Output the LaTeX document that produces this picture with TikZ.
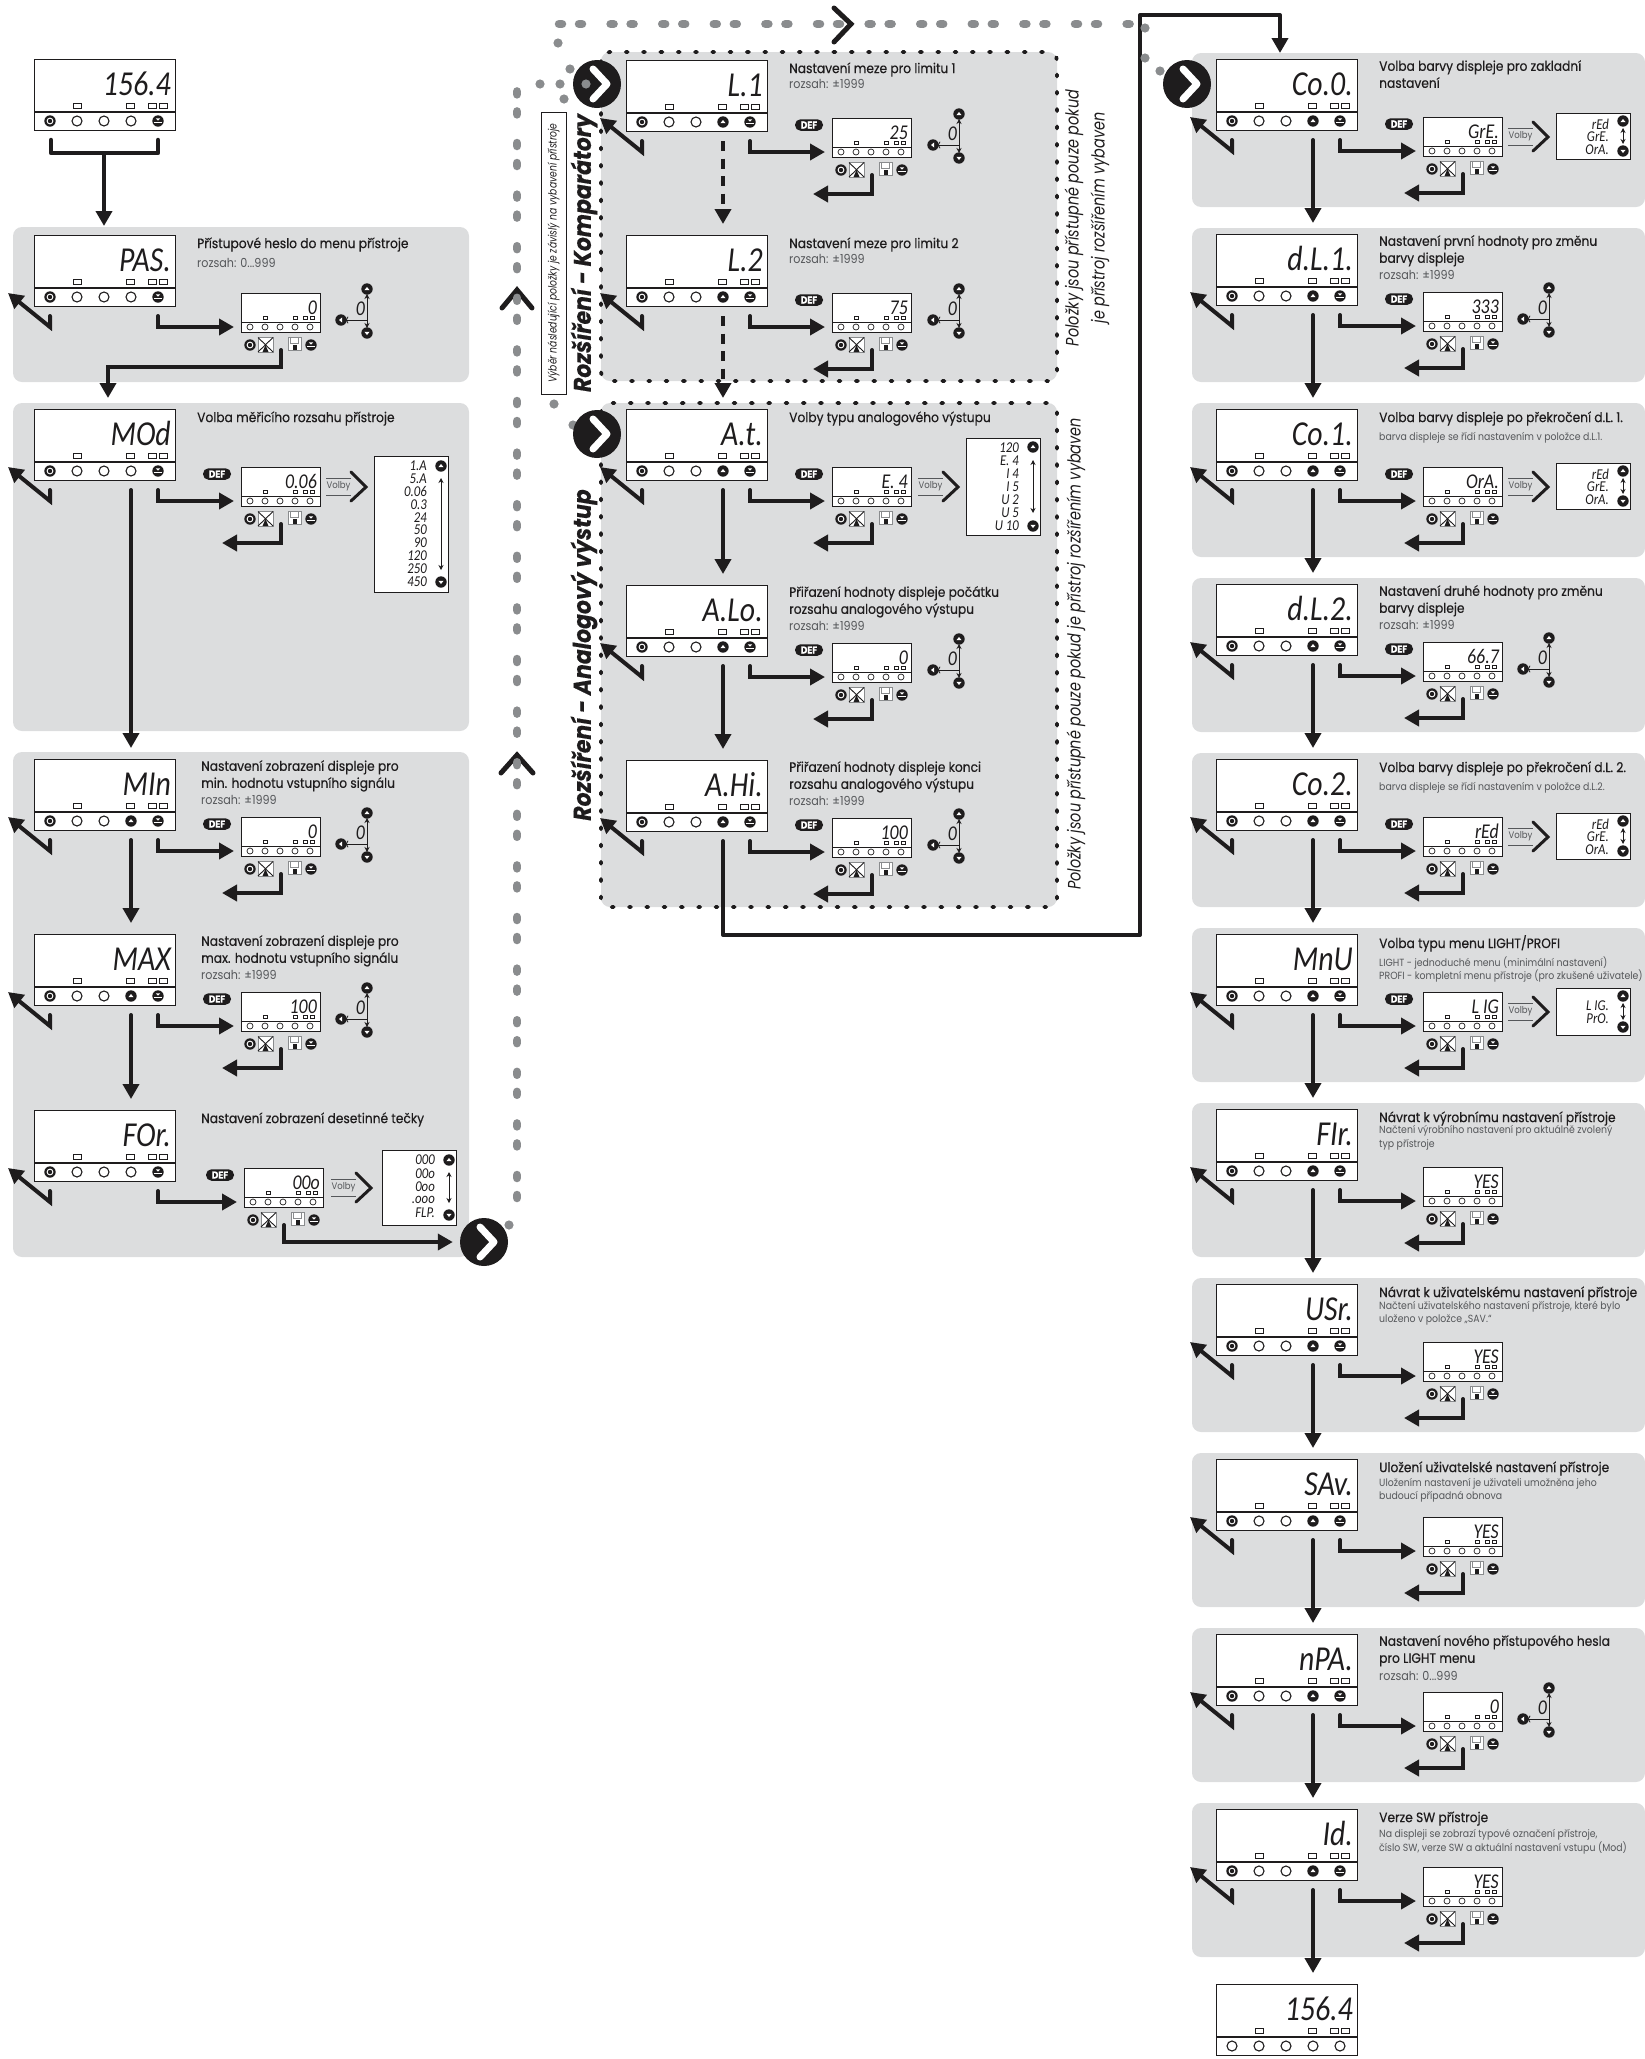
\documentclass[tikz,border=0pt]{standalone}
\usepackage{fontspec}
\setmainfont{Poppins}[FakeStretch=0.9]
\newfontfamily\headfont{Poppins}[FakeStretch=0.9,FakeBold=0.4]
\newfontfamily\segfont{Carlito}[FakeStretch=0.85]
\newfontfamily\narrowfont{Poppins}[FakeStretch=0.8]
\usetikzlibrary{arrows.meta}
\definecolor{panelgray}{HTML}{DCDDDE}
\definecolor{dotgray}{HTML}{8A8C8E}
\definecolor{inkgray}{HTML}{55575A}
\definecolor{ink}{HTML}{1E1C1D}
\newcommand{\rng}{\fontsize{12.4}{13.5}\selectfont}
%--- Buttons ---%
\newcommand{\btno}[2]{\draw[btnline, fill=white] (#1,#2) circle (5);}
\newcommand{\btnt}[2]{\fill[ink] (#1,#2) circle (5.7); \fill[white] (#1,#2) circle (3.4); \fill[ink] (#1,#2) circle (2.2);}
\newcommand{\btnu}[2]{\fill[ink] (#1,#2) circle (5.7); \begin{scope}[shift={(#1,#2)}] \fill[white] (-2.6,1.2) -- (2.6,1.2) -- (0,-2) -- cycle; \end{scope}}
\newcommand{\btnv}[2]{\fill[ink] (#1,#2) circle (5.7); \begin{scope}[shift={(#1,#2)}] \fill[white] (-2.6,-1.2) -- (2.6,-1.2) -- (0,2) -- cycle; \end{scope}}
\newcommand{\btnl}[2]{\fill[ink] (#1,#2) circle (5.7); \begin{scope}[shift={(#1,#2)}] \fill[white] (1.2,-2.6) -- (1.2,2.6) -- (-2,0) -- cycle; \end{scope}}
\newcommand{\btnd}[2]{\fill[ink] (#1,#2) circle (5.7); \begin{scope}[shift={(#1,#2)}] \fill[white] (-2.2,-2.6) -- (2.2,-2.6) -- (0,-0.4) -- cycle; \fill[white] (-3.6,1.1) rectangle (3.6,2.4); \end{scope}}
%--- Devices ---%
\newcommand{\bigdev}[7]{%
  \begin{scope}[shift={(#2,#3)}]
    \coordinate (#1-o) at (0,0);
    \node (#1) [bigbox] at (0,0) {};
    \draw[thick line] (0,53) -- (141,53);
    \foreach \l in {39,92,114,125} \draw[ledline] (\l,44.5) rectangle ++(8,5);
    #5{16}{62} \btno{43}{62} \btno{70}{62} #6{97}{62} #7{124}{62}
    \node (#1-t) [bigval] at (137,36) {#4};
    \coordinate (#1-n) at (97,0);
    \coordinate (#1-d) at (97,81);
    \coordinate (#1-r) at (124,81);
    \coordinate (#1-k) at (16,81);
    \coordinate (#1-j) at (16,92);
    \coordinate (#1-g) at (-26,58);
  \end{scope}}
\newcommand{\menuitem}[5]{%
  \bigdev{#1}{#2}{#3}{#4}{\btnt}{#5}{\btnd}
  \draw[back] (#1-k) -- (#1-j) -- (#1-g);}
\newcommand{\setitem}[3][207]{%
  \begin{scope}[shift={(#2-o)},shift={(#1,58)}]
    \node (#2-s) [smallbox] at (0,0) {};
    \draw[line width=0.9pt, ink] (0,29) -- (79,29);
    \foreach \l in {22,52,62,69} \draw[ledline, line width=0.6pt] (\l,23.5) rectangle ++(4.4,3);
    \foreach \l in {9,24,39,54,69} \draw[line width=0.7pt, ink, fill=white] (\l,34) circle (3);
    \node (#2-v) [smallval] at (76,21) {#3};
    \btnt{9}{52}
    \draw[line width=0.8pt, dotgray, fill=white] (17,44.5) rectangle (32,59);
    \draw[line width=0.9pt, ink] (17,44.5) -- (32,59) (32,44.5) -- (17,59);
    \fill[ink] (21.5,59) -- (24.5,52) -- (27.5,59) -- cycle;
    \draw[line width=0.8pt, dotgray, fill=white] (47,44) rectangle (60,57);
    \draw[line width=0.7pt, dotgray] (49.5,44) rectangle (57.5,50);
    \fill[ink] (52,52) rectangle (56,57);
    \btnd{70}{52}
    \coordinate (#2-i) at (-7,34);
    \coordinate (#2-b) at (40,57);
    \coordinate (#2-c) at (-19,76);
  \end{scope}
  \draw[arr] (#2-r) |- (#2-i);}
\newcommand{\defbadge}[2][183]{%
  \begin{scope}[shift={(#2-o)}]
    \node (#2-def) [defb] at (#1,65) {DEF};
  \end{scope}}
\newcommand{\spin}[1]{%
  \begin{scope}[shift={(#1-o)}]
    \draw[thinarr, <->] (333,59) -- (333,93);
    \draw[thinarr, ->] (333,85) -- (311,85);
    \node (#1-z) [smallval] at (331,80) {0};
    \btnu{333}{54} \btnv{333}{98} \btnl{307}{85}
  \end{scope}}
\newcommand{\volby}[2][292]{%
  \begin{scope}[shift={(#2-o)},shift={(#1,0)}]
    \draw[line width=0.8pt, inkgray] (0,69) -- (25,69) (0,86) -- (25,86);
    \node (#2-vo) [vol] at (12.5,77.5) {Volby};
    \draw[chev, line width=3pt] (25,63) -- (40,78) -- (25,92);
  \end{scope}}
\newcommand{\optbox}[9]{%
  \begin{scope}[shift={(#1-o)},shift={(#2,#3)}]
    \node (#1-box) [optb, minimum width=74pt, minimum height=#4pt] at (0,0) {};
    \foreach \v [count=\i] in {#8} \node (#1-o\i) [optval] at (53,{#5+(\i-1)*#6}) {\v};
    \draw[thinarr, <->] (67,#7) -- (67,{#4-#7});
    \btnu{67}{#9} \btnv{67}{#4-#9}
  \end{scope}}
\newcommand{\headtxt}[3][163]{%
  \begin{scope}[shift={(#2-o)}]
    \node (#2-h) [head] at (#1,1) {#3};
  \end{scope}}
\newcommand{\subtxt}[4][163]{%
  \begin{scope}[shift={(#2-o)}]
    \node (#2-u) [sub] at (#1,#3) {#4};
  \end{scope}}
\begin{document}
\begin{tikzpicture}[
        x=1pt, y=-1pt,
        panel/.style = {fill=panelgray, rounded corners=9pt},
        dpanel/.style = {panel, draw=ink, line width=3.8pt, line cap=round, dash pattern=on 2pt off 15.3pt},
        thick line/.style = {line width=1.2pt, ink},
        btnline/.style = {line width=1.1pt, ink},
        ledline/.style = {line width=0.8pt, ink, fill=white},
        bigbox/.style = {draw=ink, line width=1.3pt, fill=white, anchor=north west, inner sep=0pt, minimum width=141pt, minimum height=71pt},
        smallbox/.style = {draw=ink, line width=0.9pt, fill=white, anchor=north west, inner sep=0pt, minimum width=79pt, minimum height=39pt},
        bigval/.style = {anchor=base east, inner sep=0pt, text=ink, font=\segfont\itshape\fontsize{35}{35}\selectfont},
        smallval/.style = {anchor=base east, inner sep=0pt, text=ink, font=\segfont\itshape\fontsize{21}{21}\selectfont},
        optval/.style = {anchor=east, inner sep=0pt, text=ink, font=\segfont\itshape\fontsize{15}{15}\selectfont},
        optb/.style = {draw=ink, line width=0.9pt, fill=white, anchor=north west, inner sep=0pt},
        defb/.style = {fill=ink, text=white, rounded corners=5.5pt, inner sep=0pt, minimum width=28pt, minimum height=11.5pt, font=\headfont\bfseries\fontsize{10}{10}\selectfont},
        vol/.style = {inner sep=0pt, text=inkgray, font=\fontsize{9.5}{10}\selectfont},
        head/.style = {anchor=north west, inner sep=0pt, align=left, text=ink, font=\headfont\fontsize{13.6}{17}\selectfont\strut},
        sub/.style = {anchor=north west, inner sep=0pt, align=left, text=inkgray, font=\fontsize{10.4}{13.5}\selectfont\strut},
        arr/.style = {-{Triangle[length=15pt,width=16pt]}, line width=4pt, ink, line cap=round},
        arrd/.style = {-{Triangle[length=15pt,width=16pt]}, line width=4pt, ink, dash pattern=on 10pt off 7.5pt},
        back/.style = {-{Triangle[length=15pt,width=16pt]}, line width=4pt, ink, line cap=round, miter limit=4},
        thinarr/.style = {-{Stealth[length=5pt,width=5pt]}, line width=0.8pt, ink},
        <->/.style = {{Stealth[length=5pt,width=5pt]}-{Stealth[length=5pt,width=5pt]}},
        chev/.style = {ink, line width=5pt, line cap=round, line join=miter},
        go/.style = {circle, fill=ink, inner sep=0pt, minimum size=48pt},
        gdots/.style = {line width=8.5pt, dotgray, line cap=round, dash pattern=on 3pt off 17pt on 3pt off 28.6pt},
        title/.style = {rotate=90, inner sep=0pt, text=ink, font=\headfont\bfseries\itshape\fontsize{24.3}{24.3}\selectfont},
        rnote/.style = {rotate=90, inner sep=0pt, text=ink, font=\narrowfont\itshape\fontsize{18}{18}\selectfont},
        lnote/.style = {rotate=90, draw=ink, line width=0.8pt, fill=white, inner sep=0pt, minimum width=282pt, minimum height=25pt, text=ink, font=\narrowfont\itshape\fontsize{11.5}{11.5}\selectfont}
    ]
    \useasboundingbox (0,0) rectangle (1645,2059);
    %--- Draw Panels ---%
        \fill[panel] (13,227) rectangle (469,382);
        \fill[panel] (13,403) rectangle (469,731);
        \fill[panel] (13,752) rectangle (469,1257);
        \foreach \y in {53,228,403,578,753,928,1103,1278,1453,1628,1803}
            \fill[panel] (1192,\y) rectangle (1645,{\y+154});
        \draw[dpanel] (601,52) rectangle (1057,381);
        \draw[dpanel] (601,403) rectangle (1057,907);
    %--- Draw Left Column ---%
        \bigdev{sta}{34}{59}{156.4}{\btnt}{\btno}{\btnd}
        \menuitem{pas}{34}{235}{PAS.}{\btno}
        \setitem{pas}{0} \spin{pas}
        \headtxt{pas}{Přístupové heslo do menu přístroje}
        \subtxt{pas}{22.5}{\rng rozsah: 0...999}
        \menuitem{mod}{34}{409}{MOd}{\btno}
        \setitem{mod}{0.06} \defbadge{mod} \volby{mod}
        \optbox{mod}{340}{47}{136}{10}{12.8}{22}{1.A,5.A,0.06,0.3,24,50,90,120,250,450}{10}
        \headtxt{mod}{Volba měřicího rozsahu přístroje}
        \menuitem{min}{34}{759}{MIn}{\btnu}
        \setitem{min}{0} \defbadge{min} \spin{min}
        \headtxt[167]{min}{Nastavení zobrazení displeje pro\\min. hodnotu vstupního signálu}
        \subtxt[167]{min}{35.5}{\rng rozsah: ±1999}
        \menuitem{max}{34}{934}{MAX}{\btnu}
        \setitem{max}{100} \defbadge{max} \spin{max}
        \headtxt[167]{max}{Nastavení zobrazení displeje pro\\max. hodnotu vstupního signálu}
        \subtxt[167]{max}{35.5}{\rng rozsah: ±1999}
        \menuitem{for}{34}{1110}{FOr.}{\btno}
        \setitem[210]{for}{00o} \defbadge[186]{for} \volby[297]{for}
        \optbox{for}{348}{40}{75}{10}{13.2}{22}{000,00o,0oo,.ooo,FLP.}{10}
        \headtxt[167]{for}{Nastavení zobrazení desetinné tečky}
    %--- Draw Center Column ---%
        \menuitem{la}{626}{60}{L.1}{\btnu}
        \setitem[206]{la}{25} \defbadge{la} \spin{la}
        \headtxt{la}{Nastavení meze pro limitu 1}
        \subtxt{la}{18.5}{\rng rozsah: ±1999}
        \menuitem{lb}{626}{235}{L.2}{\btnu}
        \setitem[206]{lb}{75} \defbadge{lb} \spin{lb}
        \headtxt{lb}{Nastavení meze pro limitu 2}
        \subtxt{lb}{18.5}{\rng rozsah: ±1999}
        \menuitem{at}{626}{409}{A.t.}{\btnu}
        \setitem[206]{at}{E. 4} \defbadge{at} \volby{at}
        \optbox{at}{340}{29}{97}{10}{13}{22}{120,E. 4,I 4,I 5,U 2,U 5,U 10}{9}
        \headtxt{at}{Volby typu analogového výstupu}
        \menuitem{alo}{626}{585}{A.Lo.}{\btnu}
        \setitem[206]{alo}{0} \defbadge{alo} \spin{alo}
        \headtxt{alo}{Přiřazení hodnoty displeje počátku\\rozsahu analogového výstupu}
        \subtxt{alo}{35.5}{\rng rozsah: ±1999}
        \menuitem{ahi}{626}{760}{A.Hi.}{\btnu}
        \setitem[206]{ahi}{100} \defbadge{ahi} \spin{ahi}
        \headtxt{ahi}{Přiřazení hodnoty displeje konci\\rozsahu analogového výstupu}
        \subtxt{ahi}{35.5}{\rng rozsah: ±1999}
    %--- Draw Right Column ---%
        \menuitem{coa}{1216}{59}{Co.0.}{\btnu}
        \setitem{coa}{GrE.} \defbadge{coa} \volby{coa}
        \optbox{coa}{340}{54}{46}{11}{13}{15}{rEd,GrE.,OrA.}{8}
        \headtxt{coa}{Volba barvy displeje pro zakladní\\nastavení}
        \menuitem{dla}{1216}{234}{d.L.1.}{\btnu}
        \setitem{dla}{333} \defbadge{dla} \spin{dla}
        \headtxt{dla}{Nastavení první hodnoty pro změnu\\barvy displeje}
        \subtxt{dla}{35.5}{\rng rozsah:  ±1999}
        \menuitem{cob}{1216}{409}{Co.1.}{\btnu}
        \setitem{cob}{OrA.} \defbadge{cob} \volby{cob}
        \optbox{cob}{340}{54}{46}{11}{13}{15}{rEd,GrE.,OrA.}{8}
        \headtxt{cob}{Volba barvy displeje po překročení d.L. 1.}
        \subtxt{cob}{21.5}{barva displeje se řídí nastavením v položce d.L.1.}
        \menuitem{dlb}{1216}{584}{d.L.2.}{\btnu}
        \setitem{dlb}{66.7} \defbadge{dlb} \spin{dlb}
        \headtxt{dlb}{Nastavení druhé hodnoty pro změnu\\barvy displeje}
        \subtxt{dlb}{35.5}{\rng rozsah:  ±1999}
        \menuitem{coc}{1216}{759}{Co.2.}{\btnu}
        \setitem{coc}{rEd} \defbadge{coc} \volby{coc}
        \optbox{coc}{340}{54}{46}{11}{13}{15}{rEd,GrE.,OrA.}{8}
        \headtxt{coc}{Volba barvy displeje po překročení d.L. 2.}
        \subtxt{coc}{21.5}{barva displeje se řídí nastavením v položce d.L.2.}
        \menuitem{mnu}{1216}{934}{MnU}{\btnu}
        \setitem{mnu}{L IG} \defbadge{mnu} \volby{mnu}
        \optbox{mnu}{340}{54}{47}{18}{13}{15}{L IG.,PrO.}{8}
        \headtxt{mnu}{Volba typu menu LIGHT/PROFI}
        \subtxt{mnu}{22.5}{LIGHT - jednoduché menu (minimální nastavení)\\PROFI - kompletní menu přístroje (pro zkušené uživatele)}
        \menuitem{fir}{1216}{1109}{FIr.}{\btnu}
        \setitem{fir}{YES}
        \headtxt{fir}{Návrat k výrobnímu nastavení přístroje}
        \subtxt{fir}{16.5}{Načtení výrobního nastavení pro aktuálně zvolený\\typ přístroje}
        \menuitem{usr}{1216}{1284}{USr.}{\btnu}
        \setitem{usr}{YES}
        \headtxt{usr}{Návrat k uživatelskému nastavení přístroje}
        \subtxt{usr}{17}{Načtení uživatelského nastavení přístroje, které bylo\\uloženo v položce „SAV.“}
        \menuitem{sav}{1216}{1459}{SAv.}{\btnu}
        \setitem{sav}{YES}
        \headtxt{sav}{Uložení uživatelské nastavení přístroje}
        \subtxt{sav}{19}{Uložením nastavení je uživateli umožněna jeho\\budoucí případná obnova}
        \menuitem{npa}{1216}{1634}{nPA.}{\btnu}
        \setitem{npa}{0} \spin{npa}
        \headtxt{npa}{Nastavení nového přístupového hesla\\pro LIGHT menu}
        \subtxt{npa}{37}{\rng rozsah: 0...999}
        \menuitem{idn}{1216}{1809}{Id.}{\btnu}
        \setitem{idn}{YES}
        \headtxt{idn}{Verze SW přístroje}
        \subtxt{idn}{20.5}{Na displeji se zobrazí typové označení přístroje,\\číslo SW, verze SW a aktuální nastavení vstupu (Mod)}
        \bigdev{fin}{1216}{1984}{156.4}{\btno}{\btno}{\btno}
    %--- Draw Free Points ---%
        \coordinate (stb) at (51,140);
        \coordinate (stc) at (51,153);
        \coordinate (std) at (158,153);
        \coordinate (ste) at (158,140);
        \coordinate (stf) at (104,153);
        \coordinate (stg) at (104,235);
        \coordinate (pasj) at (108,367);
        \coordinate (pasq) at (108,398);
        \coordinate (ahb) at (723,935);
        \coordinate (ahc) at (1140,935);
        \coordinate (ahd) at (1140,15);
        \coordinate (ahe) at (1280,15);
        \coordinate (ahf) at (1280,53);
        \coordinate (gva) at (517,1198);
        \coordinate (gvb) at (517,90);
        \coordinate (gta) at (559,24);
        \coordinate (gtb) at (1135,24);
    %--- Draw Arrows ---%
        \draw[line width=4.5pt, ink, line cap=round, line join=round] (stb) -- (stc) -- (std) -- (ste);
        \draw[arr, shorten >=9pt] (stf) -- (stg);
        \draw[arr] (pas-b) |- (pasj) -- (pasq);
        \foreach \a in {mod,min,max,la,lb,at,alo,ahi,coa,dla,cob,dlb,coc,mnu,fir,usr,sav,npa,idn}
            \draw[arr] (\a-b) |- (\a-c);
        \foreach \a/\b in {mod/min,min/max,max/for,at/alo,alo/ahi,coa/dla,dla/cob,cob/dlb,dlb/coc,coc/mnu,mnu/fir,fir/usr,usr/sav,sav/npa,npa/idn,idn/fin}
            \draw[arr, shorten >=11pt] (\a-d) -- (\b-n);
        \draw[arrd, shorten >=11pt] (la-d) -- (lb-n);
        \draw[arrd, shorten >=11pt] (lb-d) -- (at-n);
        \draw[arr, line join=round] (ahi-d) -- (ahb) -- (ahc) -- (ahd) -- (ahe) -- (ahf);
    %--- Draw Chevrons ---%
        \draw[chev] (502,308) -- (517,290) -- (532,308);
        \draw[chev] (501,773) -- (517,755) -- (533,773);
        \draw[chev] (834,8) -- (851,24) -- (834,42);
    %--- Draw Gray Dots ---%
        \draw[gdots] (gva) -- (gvb);
        \draw[gdots] (gta) -- (gtb);
        \foreach \x/\y in {558/43,570/69,540/84,560/84,564/99,554/404,573/425,509/1225,1145/28,1145/58,1160/71}
            \fill[dotgray] (\x,\y) circle (4.6);
    %--- Draw Go Marks ---%
        \node (goa) [go] at (484,1242) {};
        \node (gob) [go] at (597,84) {};
        \node (goc) [go] at (597,434) {};
        \node (god) [go] at (1187,84) {};
        \foreach \g in {goa,gob,goc,god}
            \draw[white, line width=7pt, line cap=round, line join=round]
                ([shift={(-4,-15)}]\g.center) -- ([shift={(10,0)}]\g.center) -- ([shift={(-4,15)}]\g.center);
        \draw[arr, shorten >=7pt] (for-b) |- (goa);
        \fill[dotgray] (586,84) circle (4.6);
    %--- Draw Side Texts ---%
        \node (rka) [title] at (584,253) {Rozšíření - Komparátory};
        \node (rkb) [title] at (584,655) {Rozšíření - Analogový výstup};
        \node (rla) [rnote] at (1074,218) {Položky jsou přístupné pouze pokud};
        \node (rlb) [rnote] at (1100,218) {je přístroj rozšířením vybaven};
        \node (rlc) [rnote] at (1076,654) {Položky jsou přístupné pouze pokud je přístroj rozšířením vybaven};
        \node (lbl) [lnote] at (553.5,253) {Výběr následující položky je závislý na vybavení přístroje};
    \end{tikzpicture}
\end{document}
